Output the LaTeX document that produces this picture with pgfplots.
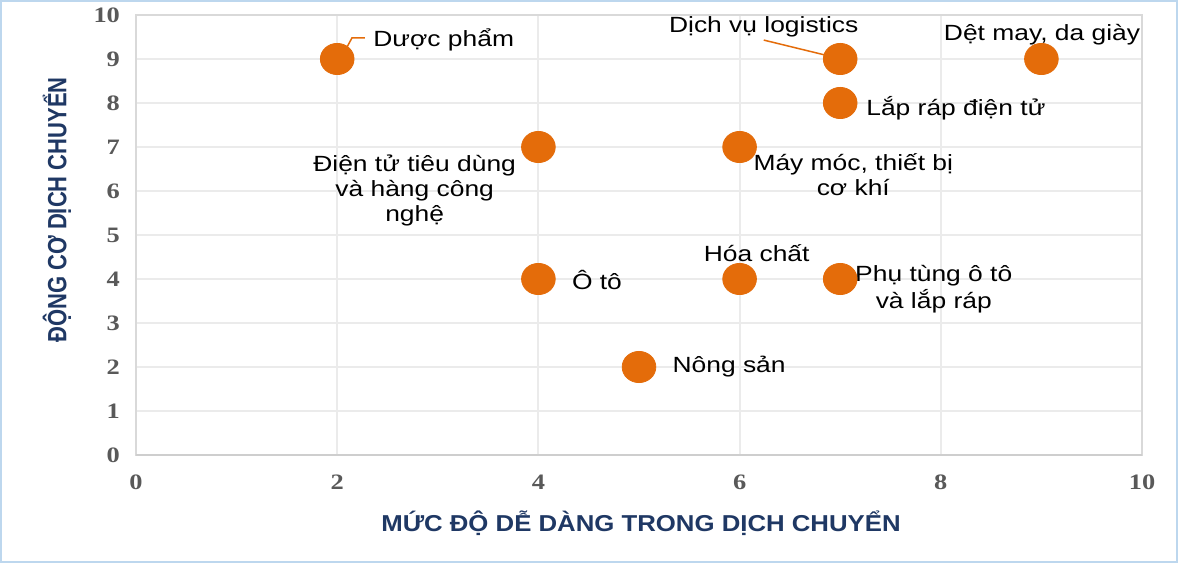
\documentclass[border=0pt]{standalone}
\usepackage{fontspec}
\setmainfont{Liberation Sans}
\newfontfamily\tickfont{Liberation Serif}
\usepackage{pgfplots}
\usepackage{pgfplotstable}
\pgfplotsset{compat=1.18}

\definecolor{dot}{RGB}{228,108,10}
\definecolor{navy}{RGB}{31,56,100}
\definecolor{tickgrey}{RGB}{89,89,89}
\definecolor{gridgrey}{RGB}{235,235,235}
\definecolor{axisgrey}{RGB}{217,217,217}
\definecolor{basegrey}{RGB}{206,206,206}
\definecolor{frameblue}{RGB}{189,215,238}

% labels look a bit wide in the reference
\newcommand{\lbl}[1]{\scalebox{1.2}[1]{\fontsize{11}{13}\selectfont #1}}
\newcommand{\lbls}[1]{\scalebox{1.2}[1]{\fontsize{11}{12.5}\selectfont\begin{tabular}{@{}c@{}}#1\end{tabular}}}
\newcommand{\tk}[1]{\scalebox{1.2}[1]{\pgfmathprintnumber[assume math mode=true]{#1}}}

\pgfplotstableread{
x y
2 9
7 9
9 9
7 8
4 7
6 7
4 4
6 4
7 4
5 2
}\pts

\begin{document}
\begin{tikzpicture}
\path[use as bounding box] (0,0) rectangle (589pt,281.5pt);
\fill[white] (0,0) rectangle (589pt,281.5pt);
\draw[frameblue, line width=1.2pt] (0.6pt,0.6pt) rectangle (588.4pt,280.9pt);

\begin{axis}[
  at={(68pt,54pt)}, anchor=south west,
  scale only axis,
  width=503pt, height=220pt,
  xmin=0, xmax=10, ymin=0, ymax=10,
  xtick={0,2,...,10}, ytick={0,1,...,10},
  major tick length=0pt,
  grid=major,
  grid style={gridgrey, line width=1pt},
  axis line style={axisgrey, line width=1pt},
  ticklabel style={font=\tickfont\bfseries\fontsize{11}{12}\selectfont, text=tickgrey},
  xticklabel={\tk{\tick}},
  yticklabel={\tk{\tick}},
  yticklabel style={xshift=-4.5pt},
  xticklabel style={yshift=-6.5pt},
  clip=false,
]
\draw[basegrey, line width=1pt] (rel axis cs:0,0) -- (rel axis cs:1,0);

\addplot[only marks, mark=*, mark size=7.8pt,
  mark options={fill=dot, draw=dot, xscale=1.08}] table[x=x, y=y] {\pts};

% leader lines
\draw[dot, line width=0.75pt] (axis cs:2.097,9.27) -- (axis cs:2.147,9.48) -- (axis cs:2.276,9.48);
\draw[dot, line width=0.75pt] (axis cs:6.24,9.43) -- (axis cs:6.85,9.09);

% point labels
\node[anchor=west, inner sep=0pt] at (axis cs:2.356,9.43) {\lbl{Dược phẩm}};
\node[inner sep=0pt] at (axis cs:6.24,9.73) {\lbl{Dịch vụ logistics}};
\node[inner sep=0pt] at (axis cs:9.006,9.55) {\lbl{Dệt may, da giày}};
\node[anchor=west, inner sep=0pt] at (axis cs:7.256,7.89) {\lbl{Lắp ráp điện tử}};
\node[inner sep=0pt] at (axis cs:2.77,5.98) {\lbls{Điện tử tiêu dùng\\ và hàng công\\ nghệ}};
\node[inner sep=0pt] at (axis cs:7.13,6.30) {\lbls{Máy móc, thiết bị\\ cơ khí}};
\node[inner sep=0pt] at (axis cs:6.17,4.59) {\lbl{Hóa chất}};
\node[anchor=west, inner sep=0pt] at (axis cs:4.33,3.98) {\lbl{Ô tô}};
\node[inner sep=0pt] at (axis cs:7.93,3.75) {\lbls{Phụ tùng ô tô\\ và lắp ráp}};
\node[anchor=west, inner sep=0pt] at (axis cs:5.33,2.0) {\lbl{Nông sản}};
\end{axis}

% axis titles
\node[text=navy, font=\bfseries\fontsize{11.5}{12}\selectfont] at (320.5pt,20pt)
  {\scalebox{1.12}[1]{MỨC ĐỘ DỄ DÀNG TRONG DỊCH CHUYỂN}};
\node[text=navy, font=\bfseries\fontsize{11}{12}\selectfont, rotate=90] at (28.5pt,176.5pt)
  {\scalebox{1}[1.2]{ĐỘNG CƠ DỊCH CHUYỂN}};
\end{tikzpicture}
\end{document}
